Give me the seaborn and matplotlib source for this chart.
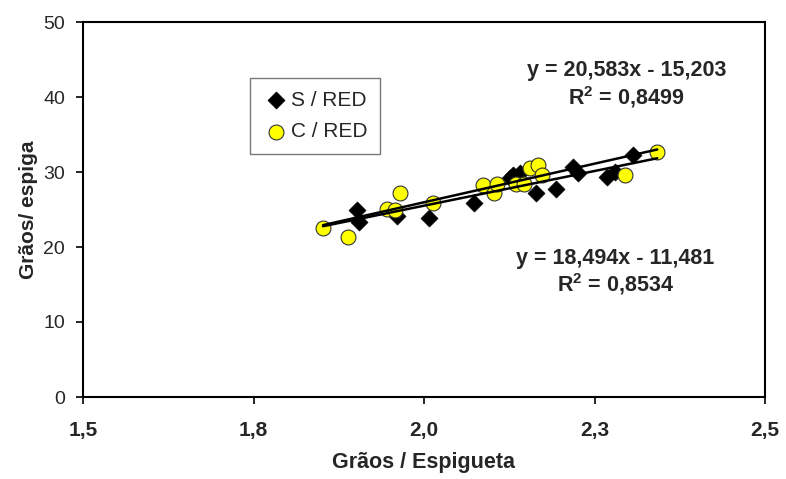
import numpy as np
import pandas as pd
import matplotlib
matplotlib.use("Agg")
import matplotlib.pyplot as plt
import seaborn as sns

# Dados
s_red_x = [1.902, 1.905, 1.960, 2.007, 2.073, 2.126, 2.130, 2.141, 2.164, 2.194,
           2.218, 2.226, 2.268, 2.280, 2.306]
s_red_y = [24.9, 23.3, 24.1, 23.9, 25.9, 29.2, 29.6, 29.9, 27.2, 27.7,
           30.7, 29.9, 29.3, 30.0, 32.3]

c_red_x = [1.852, 1.889, 1.946, 1.957, 1.965, 2.013, 2.087, 2.103, 2.107, 2.135,
           2.147, 2.155, 2.167, 2.173, 2.295, 2.342]
c_red_y = [22.5, 21.3, 25.1, 24.9, 27.2, 25.9, 28.3, 27.2, 28.4, 28.4,
           28.4, 30.5, 30.9, 29.6, 29.6, 32.7]

# Linhas de tendência (coeficientes exibidos no gráfico)
c_coef = (20.583, -15.203)
c_r2 = "0,8499"
s_coef = (18.494, -11.481)
s_r2 = "0,8534"

x_ticks = [1.5, 1.75, 2.0, 2.25, 2.5]
x_tick_labels = ["1,5", "1,8", "2,0", "2,3", "2,5"]
y_ticks = [0, 10, 20, 30, 40, 50]

df_s = pd.DataFrame({"x": s_red_x, "y": s_red_y})
df_c = pd.DataFrame({"x": c_red_x, "y": c_red_y})

sns.set_style("ticks")
plt.rcParams["font.family"] = ["Liberation Sans", "DejaVu Sans"]
plt.rcParams["mathtext.fontset"] = "custom"
plt.rcParams["mathtext.rm"] = "Liberation Sans"
plt.rcParams["mathtext.bf"] = "Liberation Sans:bold"

fig = plt.figure(figsize=(7.86, 4.79), dpi=100)
ax = fig.add_axes([83 / 786, 1 - 397 / 479, 682 / 786, 375 / 479])

sns.scatterplot(data=df_s, x="x", y="y", ax=ax, marker="D", s=75, color="black",
                edgecolor="black", linewidth=0.5, label="S / RED", zorder=3)
sns.scatterplot(data=df_c, x="x", y="y", ax=ax, marker="o", s=115, color="#ffff00",
                edgecolor="#333333", linewidth=0.8, label="C / RED", zorder=3)

# Retas de regressão
x_min = min(min(s_red_x), min(c_red_x))
x_max = max(max(s_red_x), max(c_red_x))
xs = np.array([x_min, x_max])
ax.plot(xs, c_coef[0] * xs + c_coef[1], color="black", lw=1.8, zorder=4)
ax.plot(xs, s_coef[0] * xs + s_coef[1], color="black", lw=1.8, zorder=4)

def eq_text(coef, r2):
    return ("y = " + f"{coef[0]:.3f}".replace(".", ",") + "x - "
            + f"{-coef[1]:.3f}".replace(".", ",") + "\n$\\mathbf{R^2}$ = " + r2)

ax.text(2.297, 41.6, eq_text(c_coef, c_r2), ha="center", va="center",
        fontsize=15.5, fontweight="bold", linespacing=1.15)
ax.text(2.28, 16.6, eq_text(s_coef, s_r2), ha="center", va="center",
        fontsize=15.5, fontweight="bold", linespacing=1.15)

ax.set_xlim(1.5, 2.5)
ax.set_ylim(0, 50)
ax.tick_params(direction="out", length=5, width=1.2, color="black", labelsize=14)
ax.tick_params(axis="y", pad=8)
ax.tick_params(axis="x", pad=12)
ax.set_xticks(x_ticks)
ax.set_xticklabels(x_tick_labels, fontsize=15, fontweight="bold")
ax.set_yticks(y_ticks)
for sp in ax.spines.values():
    sp.set_visible(True)
    sp.set_color("black")
    sp.set_linewidth(1.5)

ax.set_xlabel("Grãos / Espigueta", fontsize=15.5, fontweight="bold", labelpad=9)
ax.set_ylabel("Grãos/ espiga", fontsize=15, fontweight="bold", labelpad=4)

leg = ax.legend(loc="upper left", bbox_to_anchor=(0.245, 0.85), fontsize=15,
                frameon=True, fancybox=False, borderpad=0.6, labelspacing=0.6,
                handletextpad=0.05, handlelength=1.3, borderaxespad=0)
leg.get_frame().set_edgecolor("#555555")
leg.get_frame().set_linewidth(1.0)

fig.savefig("out.png", dpi=100)
plt.close(fig)
